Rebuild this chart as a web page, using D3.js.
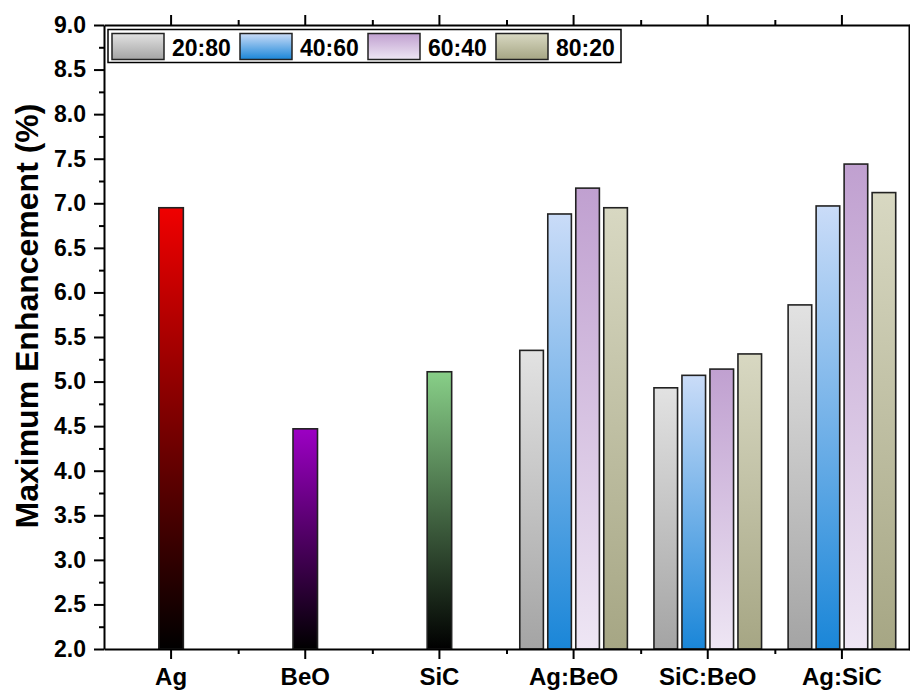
<!DOCTYPE html>
<html>
<head>
<meta charset="utf-8">
<script src="https://cdn.jsdelivr.net/npm/d3@7"></script>
<style>
  body { margin: 0; background: #fff; }
  text { font-family: "Liberation Sans", Arial, sans-serif; font-weight: bold; }
</style>
</head>
<body>
<script>
// chart data
const categories = ["Ag", "BeO", "SiC", "Ag:BeO", "SiC:BeO", "Ag:SiC"];
const singleNames = ["Ag", "BeO", "SiC"];
const singleValues = [6.95, 4.47, 5.11];
const ratios = ["20:80", "40:60", "60:40", "80:20"];
const hybridNames = ["Ag:BeO", "SiC:BeO", "Ag:SiC"];
const ratio2080 = [5.35, 4.93, 5.86];
const ratio4060 = [6.88, 5.07, 6.97];
const ratio6040 = [7.17, 5.14, 7.44];
const ratio8020 = [6.95, 5.31, 7.12];
const yMajorTicks = [2.0, 2.5, 3.0, 3.5, 4.0, 4.5, 5.0, 5.5, 6.0, 6.5, 7.0, 7.5, 8.0, 8.5, 9.0];

const width = 910, height = 690;
const margin = { left: 104, right: 1, top: 25, bottom: 41 };

// gradients (top colour, bottom colour)
const singleGrad = [["#f00000", "#000000"], ["#9c00c4", "#000000"], ["#88cf88", "#000000"]];
const ratioGrad = [["#e2e2e2", "#a4a4a4"], ["#cadcf8", "#1a86d8"], ["#c0a0d0", "#eee6f4"], ["#d8d8c2", "#a6a684"]];

const svg = d3.select("body").append("svg")
  .attr("width", width)
  .attr("height", height);

const defs = svg.append("defs");
function addGrad(id, cols) {
  const g = defs.append("linearGradient").attr("id", id)
    .attr("x1", 0).attr("y1", 0).attr("x2", 0).attr("y2", 1);
  g.append("stop").attr("offset", "0%").attr("stop-color", cols[0]);
  g.append("stop").attr("offset", "100%").attr("stop-color", cols[1]);
}
singleGrad.forEach((c, i) => addGrad("sg" + i, c));
ratioGrad.forEach((c, i) => addGrad("rg" + i, c));

const x = d3.scaleBand()
  .domain(categories)
  .range([margin.left, width - margin.right])
  .padding(0);

const sub = d3.scaleBand()
  .domain(ratios)
  .range([-56, 56])
  .padding(0);

const y = d3.scaleLinear()
  .domain([2, 9])
  .range([height - margin.bottom, margin.top]);

const y0 = y(2);

// single-material bars
const singleW = 24.5;
svg.append("g").selectAll("rect")
  .data(singleNames)
  .join("rect")
  .attr("x", (d) => x(d) + x.bandwidth() / 2 - singleW / 2)
  .attr("y", (d, i) => y(singleValues[i]))
  .attr("width", singleW)
  .attr("height", (d, i) => y0 - y(singleValues[i]))
  .attr("fill", (d, i) => "url(#sg" + i + ")")
  .attr("stroke", "#222")
  .attr("stroke-width", 1.6);

// hybrid bars, grouped by ratio
const series = [ratio2080, ratio4060, ratio6040, ratio8020];
const barW = 23.6;
series.forEach((vals, si) => {
  svg.append("g").selectAll("rect")
    .data(hybridNames)
    .join("rect")
    .attr("x", (d) => x(d) + x.bandwidth() / 2 + sub(ratios[si]) + (sub.bandwidth() - barW) / 2)
    .attr("y", (d, i) => y(vals[i]))
    .attr("width", barW)
    .attr("height", (d, i) => y0 - y(vals[i]))
    .attr("fill", "url(#rg" + si + ")")
    .attr("stroke", "#222")
    .attr("stroke-width", 1.6);
});

// axes
const bandEdges = categories.map((c) => x(c));
const xPix = d3.scaleLinear().domain([0, width]).range([0, width]);
const yMinor = d3.range(2, 9.001, 0.25).filter((v) => Math.abs(v * 2 - Math.round(v * 2)) > 0.01);

function styleAxis(g) {
  g.select(".domain").attr("stroke", "#000").attr("stroke-width", 2);
  g.selectAll(".tick line").attr("stroke", "#000").attr("stroke-width", 2);
}

// bottom
svg.append("g")
  .attr("transform", `translate(0,${y0})`)
  .call(d3.axisBottom(x).tickSize(10).tickPadding(9).tickSizeOuter(0))
  .call(styleAxis)
  .call((g) => g.selectAll("text").attr("font-size", 24).attr("fill", "#000"));
svg.append("g")
  .attr("transform", `translate(0,${y0})`)
  .call(d3.axisBottom(xPix).tickValues(bandEdges.slice(1)).tickSize(5).tickFormat("").tickSizeOuter(0))
  .call(styleAxis)
  .call((g) => g.select(".domain").remove());

// top
svg.append("g")
  .attr("transform", `translate(0,${margin.top})`)
  .call(d3.axisTop(x).tickSize(10).tickFormat("").tickSizeOuter(0))
  .call(styleAxis);
svg.append("g")
  .attr("transform", `translate(0,${margin.top})`)
  .call(d3.axisTop(xPix).tickValues(bandEdges.slice(1)).tickSize(5).tickFormat("").tickSizeOuter(0))
  .call(styleAxis)
  .call((g) => g.select(".domain").remove());

// left
svg.append("g")
  .attr("transform", `translate(${margin.left},0)`)
  .call(d3.axisLeft(y).tickValues(yMajorTicks).tickFormat(d3.format(".1f")).tickSize(10).tickPadding(8).tickSizeOuter(0))
  .call(styleAxis)
  .call((g) => g.selectAll("text").attr("font-size", 23).attr("fill", "#000"));
svg.append("g")
  .attr("transform", `translate(${margin.left},0)`)
  .call(d3.axisLeft(y).tickValues(yMinor).tickSize(5).tickFormat("").tickSizeOuter(0))
  .call(styleAxis)
  .call((g) => g.select(".domain").remove());

// right
svg.append("g")
  .attr("transform", `translate(${width - margin.right},0)`)
  .call(d3.axisRight(y).tickValues(yMajorTicks).tickSize(10).tickFormat("").tickSizeOuter(0))
  .call(styleAxis);

// y title
svg.append("text")
  .attr("transform", "translate(38,316) rotate(-90)")
  .attr("text-anchor", "middle")
  .attr("font-size", 32)
  .attr("fill", "#000")
  .text("Maximum Enhancement (%)");

// legend
const legend = svg.append("g");
legend.append("rect")
  .attr("x", 108).attr("y", 29.5)
  .attr("width", 513).attr("height", 33)
  .attr("fill", "#fff").attr("stroke", "#000").attr("stroke-width", 1.5);
const item = legend.selectAll("g.item")
  .data(ratios)
  .join("g")
  .attr("class", "item")
  .attr("transform", (d, i) => `translate(${112 + i * 128},33.5)`);
item.append("rect")
  .attr("width", 52).attr("height", 26)
  .attr("fill", (d, i) => "url(#rg" + i + ")")
  .attr("stroke", "#222").attr("stroke-width", 1.5);
item.append("text")
  .attr("x", 60).attr("y", 22)
  .attr("font-size", 23)
  .attr("fill", "#000")
  .text((d) => d);
</script>
</body>
</html>
